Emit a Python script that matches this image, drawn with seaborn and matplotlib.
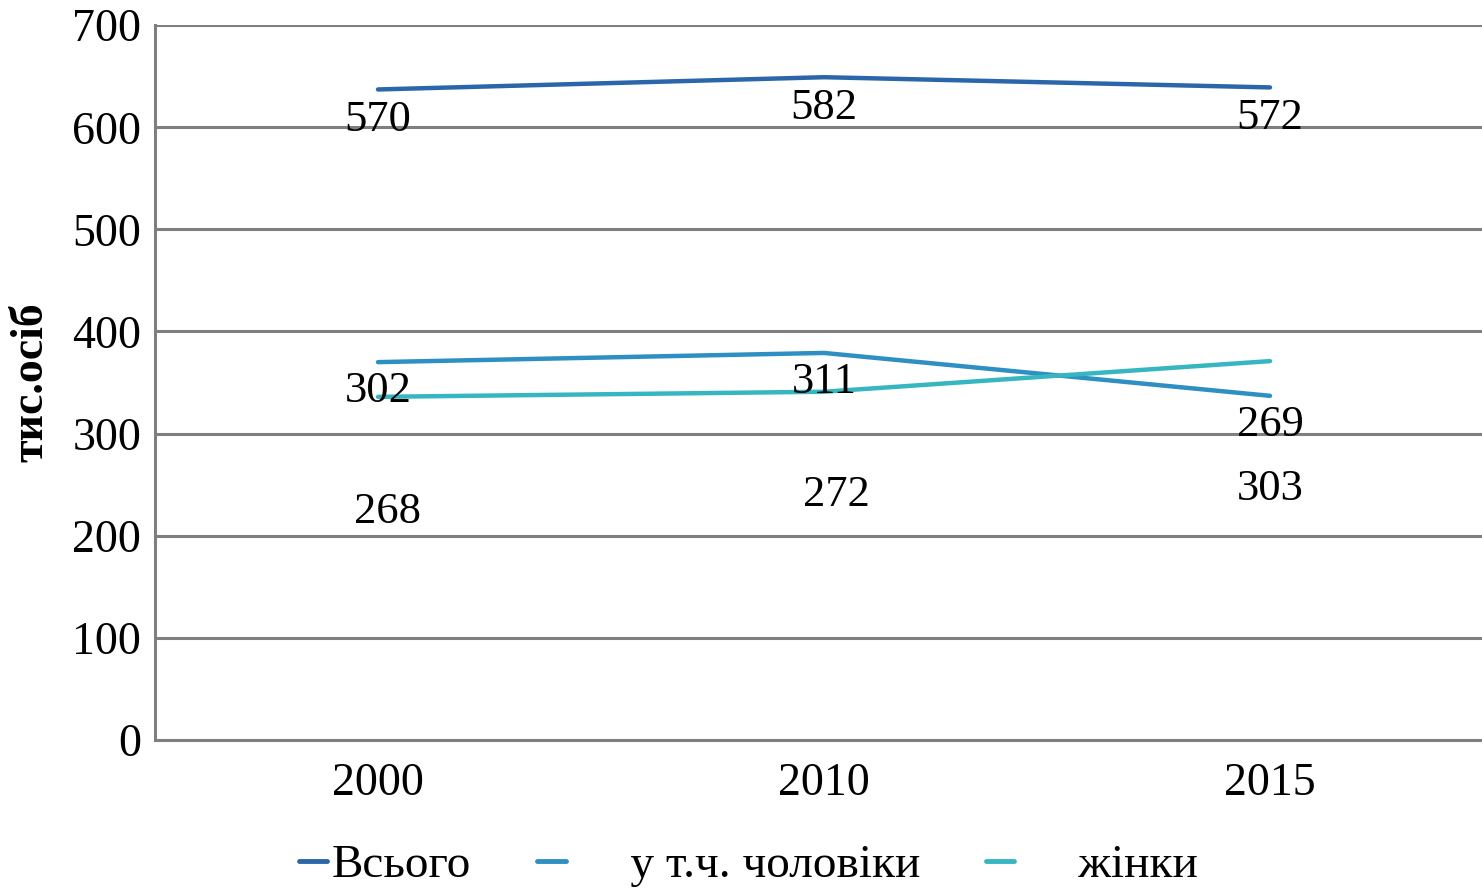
import pandas as pd
import matplotlib.pyplot as plt
import seaborn as sns

# values as drawn (lines) and as labelled (numbers) in the picture
years = ['2000', '2010', '2015']
series = ['Всього', 'у т.ч. чоловіки', 'жінки']
total_line = [637, 649, 639]
men_line = [370, 379, 337]
women_line = [336, 341, 371]
total_labels = [570, 582, 572]
men_labels = [302, 311, 269]
women_labels = [268, 272, 303]

colors = ['#2b66ab', '#2e8fc2', '#36b6c0']

df = pd.DataFrame({
    'year': years * 3,
    'value': total_line + men_line + women_line,
    'series': [s for s in series for _ in years],
})

sns.set_style('white')
plt.rcParams['font.family'] = ['Liberation Serif', 'DejaVu Serif']
plt.rcParams['text.color'] = 'black'
plt.rcParams['xtick.color'] = 'black'
plt.rcParams['ytick.color'] = 'black'
plt.rcParams['axes.labelcolor'] = 'black'

fig = plt.figure(figsize=(14.82, 8.88), dpi=100)
ax = fig.add_axes([0.1046, 0.1667, 0.9028, 0.805])

sns.lineplot(data=df, x='year', y='value', hue='series', palette=colors,
             linewidth=3.2, sort=False, legend=False, ax=ax)

ax.set_ylim(0, 700)
ax.set_xlim(-0.5, 2.5)
ax.set_yticks(range(0, 701, 100))
ax.yaxis.grid(True, color='#7f7f7f', linewidth=2.2)
ax.set_axisbelow(True)
for side in ['top', 'right']:
    ax.spines[side].set_visible(False)
ax.spines['left'].set_color('#7f7f7f')
ax.spines['left'].set_linewidth(2.2)
ax.spines['bottom'].set_color('#7f7f7f')
ax.spines['bottom'].set_linewidth(2.2)

ax.set_xticks([0, 1, 2])
ax.set_xticklabels(years)
ax.set_xticks([-0.5, 0.5, 1.5, 2.5], minor=True)
ax.tick_params(axis='x', which='major', length=0, pad=16, labelsize=33)
ax.tick_params(axis='x', which='minor', length=8, width=2, color='#7f7f7f', direction='out')
ax.tick_params(axis='y', length=9, width=2, color='#7f7f7f', labelcolor='black',
               direction='out', pad=1, labelsize=33)

ax.set_xlabel('')
ax.set_ylabel('тис.осіб', fontsize=33, fontweight='bold', labelpad=14)

# data labels
for i in range(len(years)):
    ax.annotate(str(total_labels[i]), (i, total_line[i]), xytext=(0, -22),
                textcoords='offset points', ha='center', va='center', fontsize=32)
    ax.annotate(str(men_labels[i]), (i, men_line[i]), xytext=(0, -21),
                textcoords='offset points', ha='center', va='center', fontsize=32)
women_offsets = [(7, -83), (9, -74), (0, -92)]
for i in range(len(years)):
    ax.annotate(str(women_labels[i]), (i, women_line[i]), xytext=women_offsets[i],
                textcoords='offset points', ha='center', va='center', fontsize=32)

handles = [plt.Line2D([], [], color=c, linewidth=3.5) for c in colors]
labels = ['Всього', '     у т.ч. чоловіки', '     жінки']
fig.legend(handles, labels, loc='lower center', bbox_to_anchor=(0.505, -0.047),
           ncol=3, frameon=False, fontsize=34, handlelength=0.6,
           handletextpad=0.1, columnspacing=1.4)

fig.savefig('out.png', dpi=100)
